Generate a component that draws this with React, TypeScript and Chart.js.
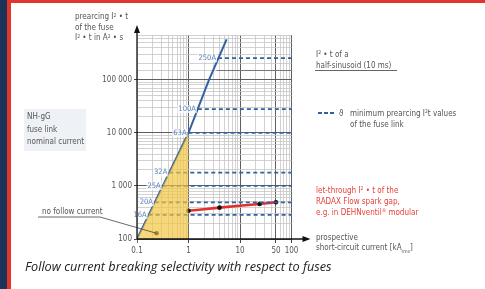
import React, { useEffect, useRef } from "react";
import { Chart, registerables } from "chart.js";

Chart.register(...registerables);

// ---- axes ----
const xGridValues = [0.1, 0.2, 0.3, 0.4, 0.5, 0.6, 0.7, 0.8, 0.9, 1, 2, 3, 4, 5, 6, 7, 8, 9, 10, 20, 30, 40, 50, 60, 70, 80, 90, 100];
const xLabelValues = [0.1, 1, 10, 50, 100];
const xLabels = ["0.1", "1", "10", "50", "100"];
const xMajor = [1, 10, 50, 100];

const yGridValues = [
  100, 200, 300, 400, 500, 600, 700, 800, 900,
  1000, 2000, 3000, 4000, 5000, 6000, 7000, 8000, 9000,
  10000, 20000, 30000, 40000, 50000, 60000, 70000, 80000, 90000,
  100000, 150000, 200000, 300000, 400000, 500000, 600000, 700000,
];
const yLabelValues = [100, 1000, 10000, 100000];
const yLabels = ["100", "1 000", "10 000", "100 000"];

// ---- data ----
const fuseLineCurrent = [0.1, 1, 2.5, 5.5];
const fuseLineI2t = [100, 10000, 100000, 580000];

const fuseRatings = ["250A", "100A", "63A", "32A", "25A", "20A", "16A"];
const fuseMinI2t = [256000, 28000, 10000, 1790, 1000, 492, 284];
const fuseStartCurrent = [3.74, 1.52, 1, 0.423, 0.316, 0.222, 0.168];

const noFollowCurrent = [0.1, 1];
const noFollowI2t = [100, 10000];

const halfSineCurrent = [3.5, 100];
const halfSineI2t = [150000, 150000];

const radaxCurrent = [1, 4, 24, 50];
const radaxI2t = [340, 390, 457, 492];

const noFollowDotCurrent = [0.24];
const noFollowDotI2t = [128];

const BLUE = "#33609f";
const LABEL_BLUE = "#5a80b8";
const TEXT = "#555";
const FONT = '"Liberation Sans Narrow", "DejaVu Sans Condensed", "Liberation Sans", sans-serif';

const pts = (xs: number[], ys: number[]) => xs.map((x, i) => ({ x, y: ys[i] }));

const decorPlugin = {
  id: "decor",
  afterDatasetsDraw(chart: any) {
    const { ctx, scales } = chart;
    const xs = scales.x;
    const ys = scales.y;
    ctx.save();
    ctx.font = `7.5px ${FONT}`;
    ctx.textAlign = "right";
    ctx.textBaseline = "middle";
    fuseRatings.forEach((lab, i) => {
      const px = xs.getPixelForValue(fuseStartCurrent[i]) - 2;
      const py = ys.getPixelForValue(fuseMinI2t[i]);
      const w = ctx.measureText(lab).width;
      ctx.fillStyle = "rgba(255,255,255,0.75)";
      ctx.fillRect(px - w - 1, py - 4, w + 2, 8);
      ctx.fillStyle = LABEL_BLUE;
      ctx.fillText(lab, px, py);
    });
    ctx.restore();
  },
  afterDraw(chart: any) {
    const { ctx, chartArea, scales } = chart;
    const { left, bottom, top, right } = chartArea;
    ctx.save();
    // leader for "no follow current"
    const dx = scales.x.getPixelForValue(noFollowDotCurrent[0]);
    const dy = scales.y.getPixelForValue(noFollowDotI2t[0]);
    ctx.strokeStyle = "#444";
    ctx.lineWidth = 0.8;
    ctx.beginPath();
    ctx.moveTo(38, 217);
    ctx.lineTo(100, 217);
    ctx.lineTo(dx, dy);
    ctx.stroke();
    // axes with arrows
    ctx.strokeStyle = "#111";
    ctx.fillStyle = "#111";
    ctx.lineWidth = 1.3;
    ctx.beginPath();
    ctx.moveTo(left, bottom);
    ctx.lineTo(right + 14, bottom);
    ctx.moveTo(left, bottom);
    ctx.lineTo(left, top - 4);
    ctx.stroke();
    ctx.beginPath();
    ctx.moveTo(right + 19, bottom);
    ctx.lineTo(right + 11, bottom - 3);
    ctx.lineTo(right + 11, bottom + 3);
    ctx.closePath();
    ctx.fill();
    ctx.beginPath();
    ctx.moveTo(left, top - 10);
    ctx.lineTo(left - 3, top - 2);
    ctx.lineTo(left + 3, top - 2);
    ctx.closePath();
    ctx.fill();
    ctx.restore();
  },
};

export default function App() {
  const ref = useRef<HTMLCanvasElement>(null);
  useEffect(() => {
    const datasets: any[] = [
      {
        data: pts(noFollowCurrent, noFollowI2t),
        fill: "start",
        backgroundColor: "rgba(242, 196, 60, 0.68)",
        borderWidth: 0,
        pointRadius: 0,
      },
      {
        data: pts(halfSineCurrent, halfSineI2t),
        borderColor: "#777",
        borderWidth: 1,
        pointRadius: 0,
      },
      ...fuseRatings.map((_, i) => ({
        data: pts([fuseStartCurrent[i], 100], [fuseMinI2t[i], fuseMinI2t[i]]),
        borderColor: BLUE,
        borderWidth: 1.8,
        borderDash: [4, 3],
        pointRadius: 0,
      })),
      {
        data: pts(fuseLineCurrent, fuseLineI2t),
        borderColor: BLUE,
        borderWidth: 2,
        pointRadius: 0,
      },
      {
        data: pts(radaxCurrent, radaxI2t),
        borderColor: "#e0302b",
        borderWidth: 2.6,
        tension: 0.4,
        pointRadius: 2.3,
        pointBackgroundColor: "#111",
        pointBorderWidth: 0,
      },
      {
        data: pts(noFollowDotCurrent, noFollowDotI2t),
        showLine: false,
        pointRadius: 2.3,
        pointBackgroundColor: "#111",
        pointBorderWidth: 0,
      },
    ];
    const chart = new Chart(ref.current!, {
      type: "line",
      data: { datasets },
      plugins: [decorPlugin],
      options: {
        animation: false,
        responsive: false,
        devicePixelRatio: 1,
        layout: { padding: { left: 0, top: 35, right: 193.5, bottom: 0 } },
        plugins: { legend: { display: false }, tooltip: { enabled: false } },
        scales: {
          x: {
            type: "logarithmic",
            min: 0.1,
            max: 100,
            afterBuildTicks: (s: any) => {
              s.ticks = xGridValues.map((v) => ({ value: v }));
            },
            afterFit: (s: any) => {
              s.height = 50;
            },
            border: { display: false },
            grid: {
              color: (c: any) => (xMajor.includes(c.tick?.value) ? "#5e5e5e" : "#c6c6c6"),
              lineWidth: (c: any) => (xMajor.includes(c.tick?.value) ? 1 : 0.8),
              tickColor: (c: any) => (xLabelValues.includes(c.tick?.value) ? "#444" : "rgba(0,0,0,0)"),
              tickLength: 4,
            },
            ticks: {
              autoSkip: false,
              maxRotation: 0,
              padding: 3,
              color: TEXT,
              font: { family: FONT, size: 8 },
              callback: (v: any) => {
                const i = xLabelValues.indexOf(Number(v));
                return i >= 0 ? xLabels[i] : "";
              },
            },
          },
          y: {
            type: "logarithmic",
            min: 100,
            max: 700000,
            afterBuildTicks: (s: any) => {
              s.ticks = yGridValues.map((v) => ({ value: v }));
            },
            afterFit: (s: any) => {
              s.width = 137;
            },
            border: { display: false },
            grid: {
              color: (c: any) => (yLabelValues.includes(c.tick?.value) ? "#5e5e5e" : "#c6c6c6"),
              lineWidth: (c: any) => (yLabelValues.includes(c.tick?.value) ? 1 : 0.8),
              tickColor: (c: any) => (yLabelValues.includes(c.tick?.value) ? "#444" : "rgba(0,0,0,0)"),
              tickLength: 3,
            },
            ticks: {
              autoSkip: false,
              padding: 2,
              color: TEXT,
              font: { family: FONT, size: 8 },
              callback: (v: any) => {
                const i = yLabelValues.indexOf(Number(v));
                return i >= 0 ? yLabels[i] : "";
              },
            },
          },
        },
      } as any,
    });
    return () => chart.destroy();
  }, []);

  const txt: React.CSSProperties = {
    position: "absolute",
    fontFamily: FONT,
    fontSize: 8,
    color: TEXT,
    whiteSpace: "nowrap",
  };
  const sup: React.CSSProperties = { fontSize: 5, verticalAlign: "top", lineHeight: "6px" };

  return (
    <div style={{ position: "fixed", left: 0, top: 0, width: 485, height: 289, background: "#fff", overflow: "hidden" }}>
      <div style={{ position: "absolute", left: 0, top: 0, width: 7, height: 289, background: "#1b3357" }} />
      <div style={{ position: "absolute", left: 7, top: 0, width: 3.5, height: 289, background: "#e2362c" }} />
      <div style={{ position: "absolute", left: 7, top: 0, width: 478, height: 2.5, background: "#e2362c" }} />
      <div style={{ position: "absolute", left: 24, top: 109, width: 62, height: 42, background: "#eef1f6" }} />
      <canvas ref={ref} width={485} height={289} style={{ position: "absolute", left: 0, top: 0 }} />

      <div style={{ ...txt, left: 75, top: 12, lineHeight: "10.5px" }}>
        prearcing I<span style={sup}>2</span> • t<br />of the fuse<br />I<span style={sup}>2</span> • t in A<span style={sup}>2</span> • s
      </div>

      <div style={{ ...txt, left: 27, top: 111, lineHeight: "12.5px" }}>
        NH-gG<br />fuse link<br />nominal current
      </div>

      <div style={{ ...txt, left: 42, top: 205.5, lineHeight: "11px" }}>no follow current</div>

      <div style={{ ...txt, left: 316, top: 48.5, lineHeight: "11px" }}>
        I<span style={sup}>2</span> • t of a<br />half-sinusoid (10 ms)
      </div>
      <div style={{ position: "absolute", left: 315, top: 70, width: 82, height: 1, background: "#666" }} />

      <div style={{ position: "absolute", left: 318, top: 112, width: 4, height: 2, background: BLUE }} />
      <div style={{ position: "absolute", left: 324, top: 112, width: 4, height: 2, background: BLUE }} />
      <div style={{ position: "absolute", left: 330, top: 112, width: 4, height: 2, background: BLUE }} />
      <div style={{ ...txt, left: 339, top: 107.5, lineHeight: "11px" }}>ϑ</div>
      <div style={{ ...txt, left: 350, top: 107.5, lineHeight: "11px" }}>
        minimum prearcing I<span style={sup}>2</span>t values<br />of the fuse link
      </div>

      <div style={{ ...txt, left: 316, top: 184.5, lineHeight: "11px", color: "#e8403a" }}>
        let-through I<span style={sup}>2</span> • t of the<br />RADAX Flow spark gap,<br />e.g. in DEHNventil<span style={sup}>®</span> modular
      </div>

      <div style={{ ...txt, left: 316, top: 232.5, lineHeight: "10.6px" }}>
        prospective<br />short-circuit current [kA<span style={{ fontSize: 5, verticalAlign: "bottom", lineHeight: "6px" }}>rms</span>]
      </div>

      <div
        style={{
          position: "absolute",
          left: 25,
          top: 258,
          fontFamily: '"Open Sans", sans-serif',
          fontStyle: "italic",
          fontSize: 12.7,
          lineHeight: "16px",
          color: "#222",
          whiteSpace: "nowrap",
        }}
      >
        Follow current breaking selectivity with respect to fuses
      </div>
    </div>
  );
}
